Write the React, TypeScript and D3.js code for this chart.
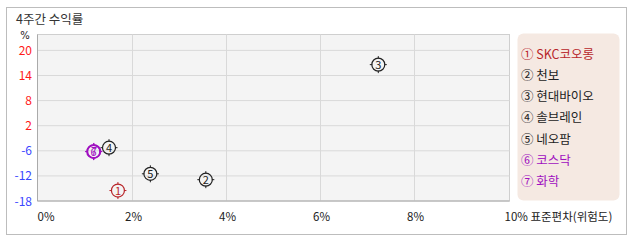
import React from "react";
import * as d3 from "d3";

const names = ["SKC코오롱", "천보", "현대바이오", "솔브레인", "네오팜", "코스닥", "화학"];
const marks = ["①", "②", "③", "④", "⑤", "⑥", "⑦"];
const riskX = [1.69, 3.56, 7.23, 1.5, 2.38, 1.17, 1.18];
const returnY = [-15.5, -12.9, 16.6, -5.0, -11.5, -6.2, -6.15];
const colors = ["#b8262a", "#222222", "#222222", "#222222", "#222222", "#a010c0", "#a010c0"];
const xTicks = [0, 2, 4, 6, 8, 10];
const yTicks = [-18, -12, -6, 2, 8, 14, 20];

const W = 638, H = 242;
const FONT = "'Noto Sans CJK KR', 'Noto Sans', sans-serif";

export default function App() {
  const left = 37.5, right = 509.5, top = 34.5, bottom = 201;
  const x = d3.scaleLinear().domain([0, 10]).range([38.5, 508.5]);
  const step = 25.1;
  const y = d3.scaleLinear().domain(yTicks).range(yTicks.map((_, i) => bottom - i * step));

  return (
    <svg width={W} height={H} style={{ position: "absolute", left: 0, top: 0 }} fontFamily={FONT}>
      <rect x={0} y={0} width={W} height={H} fill="#fff" />
      <rect x={6.5} y={7.5} width={620} height={227} fill="#fff" stroke="#bdbdbd" />
      <text x={16} y={23.5} fontSize={12.5} fill="#333">4주간 수익률</text>

      <rect x={left} y={top} width={right - left} height={bottom - top} fill="#f4f4f4" stroke="#cfcfcf" />
      {xTicks.filter((t) => t > 0 && t < 10).map((t) => (
        <line key={"gx" + t} x1={x(t)} x2={x(t)} y1={top} y2={bottom} stroke="#d9d9d9" />
      ))}
      {yTicks.filter((t) => t > -18).map((t) => (
        <line key={"gy" + t} x1={left} x2={right} y1={y(t)} y2={y(t)} stroke="#d9d9d9" />
      ))}
      <line x1={left} x2={left} y1={top} y2={bottom} stroke="#aaaaaa" />
      <line x1={left} x2={right} y1={bottom} y2={bottom} stroke="#aaaaaa" />

      <text x={25} y={39} fontSize={10} textAnchor="middle" fill="#222" fontFamily="'DejaVu Sans', sans-serif">%</text>
      {yTicks.map((t) => (
        <text key={"ty" + t} x={32} y={y(t) + 4.5} fontSize={12} textAnchor="end"
          fill={t > 0 ? "#ff1a1a" : "#3a46ff"}>{t}</text>
      ))}

      {xTicks.map((t) => (
        <text key={"tx" + t} x={t === 0 ? x(t) - 1 : t === 10 ? x(t) - 4 : x(t) + 1} y={221} fontSize={11.5}
          textAnchor={t === 0 || t === 10 ? "start" : "middle"} fill="#222">
          {t === 10 ? `${t}% 표준편차(위험도)` : `${t}%`}
        </text>
      ))}

      {names.map((n, i) => {
        const cx = x(riskX[i]);
        const cy = y(returnY[i]);
        const c = colors[i];
        const sw = i >= 5 ? 1.6 : 1.2;
        return (
          <g key={"p" + i}>
            <circle cx={cx} cy={cy} r={6.5} fill="none" stroke={c} strokeWidth={sw} />
            <line x1={cx} x2={cx} y1={cy - 8.5} y2={cy - 6} stroke={c} />
            <line x1={cx} x2={cx} y1={cy + 6} y2={cy + 8.5} stroke={c} />
            <line x1={cx - 8.5} x2={cx - 6} y1={cy} y2={cy} stroke={c} />
            <line x1={cx + 6} x2={cx + 8.5} y1={cy} y2={cy} stroke={c} />
            <text x={cx} y={cy + 4} fontSize={11} textAnchor="middle" fill={c}>{i + 1}</text>
          </g>
        );
      })}

      <rect x={517.5} y={33.5} width={102} height={167} rx={6} fill="#f5e9e2" />
      {names.map((n, i) => (
        <text key={"l" + i} x={521} y={58.5 + i * 21.25} fontSize={12.5} fill={colors[i]}>
          {marks[i]} {n}
        </text>
      ))}
    </svg>
  );
}
